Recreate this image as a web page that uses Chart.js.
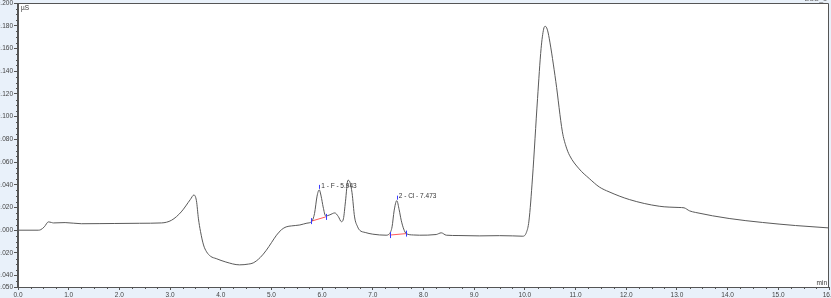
<!DOCTYPE html>
<html>
<head>
<meta charset="utf-8">
<script src="https://cdn.jsdelivr.net/npm/chart.js@4/dist/chart.umd.min.js"></script>
<style>
	html, body { margin: 0; padding: 0; width: 831px; height: 298px; overflow: hidden; background: #e9f1fa; }
	#wrap { position: absolute; left: -12px; top: -3px; width: 843px; height: 301px; }
</style>
</head>
<body>
<div id="wrap"><canvas id="ionChart" width="843" height="301"></canvas></div>
<script>
// retention time (min) and conductivity (µS)
const times = [
	0.0, 0.4, 0.45, 0.52, 0.6, 0.66, 0.7, 0.93, 1.25, 1.6, 1.91, 2.4, 2.83, 3.03, 3.22, 3.4, 3.47, 3.52,
	3.56, 3.6, 3.66, 3.72, 3.8, 3.91, 4.1, 4.37, 4.55, 4.64, 4.78, 4.9, 5.0, 5.1, 5.2, 5.29, 5.4, 5.56,
	5.7, 5.79, 5.85, 5.9, 5.943, 5.98, 6.02, 6.07, 6.15, 6.25, 6.32, 6.38, 6.42, 6.46, 6.51, 6.55, 6.59,
	6.64, 6.7, 6.74, 6.85, 7.0, 7.26, 7.33, 7.38, 7.42, 7.473, 7.52, 7.56, 7.61, 7.66, 7.8, 7.92, 8.25,
	8.35, 8.45, 8.7, 9.1, 9.5, 9.76, 9.96, 10.03, 10.08, 10.15, 10.25, 10.32, 10.37, 10.4, 10.44, 10.48,
	10.61, 10.74, 10.81, 10.88, 11.07, 11.27, 11.47, 11.66, 12.06, 12.65, 13.04, 13.14, 13.25, 13.37,
	14.03, 14.69, 15.34, 16.0
];
const signal = [
	0.0, 0.0, 0.0005, 0.003, 0.0073, 0.0068, 0.0064, 0.0067, 0.0057, 0.0058, 0.0059, 0.0061, 0.0064, 0.0088, 0.0161, 0.027, 0.031, 0.026,
	0.01, -0.001, -0.013, -0.019, -0.023, -0.025, -0.028, -0.0305, -0.0298, -0.0288, -0.024, -0.0176, -0.011, -0.0044, 0.0005, 0.0029, 0.0038, 0.0046,
	0.0062, 0.0075, 0.0147, 0.03, 0.0355, 0.03, 0.0205, 0.0125, 0.0135, 0.0152, 0.012, 0.0075, 0.01, 0.025, 0.044, 0.042, 0.033,
	0.0117, 0.003, 0.0, -0.002, -0.0035, -0.0044, -0.003, 0.003, 0.017, 0.026, 0.018, 0.0088, 0.001, -0.003, -0.0042, -0.0044, -0.0038,
	-0.0023, -0.0044, -0.0047, -0.005, -0.0048, -0.005, -0.0053, -0.002, 0.008, 0.046, 0.116, 0.16, 0.177, 0.1795, 0.177, 0.169,
	0.131, 0.0866, 0.074, 0.066, 0.054, 0.0455, 0.038, 0.0338, 0.027, 0.0211, 0.02, 0.0197, 0.017, 0.0156,
	0.0103, 0.0068, 0.0041, 0.002
];

// integrated peaks
const peakLabels = ["1 - F - 5.943", "2 - Cl - 7.473"];
const peakApexTime = [5.943, 7.473];
const peakApexValue = [0.0355, 0.026];
const baseStartTime = [5.79, 7.33];
const baseStartValue = [0.0080, -0.0043];
const baseEndTime = [6.07, 7.66];
const baseEndValue = [0.0117, -0.0030];

const xTickValues = [0, 1, 2, 3, 4, 5, 6, 7, 8, 9, 10, 11, 12, 13, 14, 15, 16];
const yTickValues = [0.2, 0.18, 0.16, 0.14, 0.12, 0.1, 0.08, 0.06, 0.04, 0.02, 0, -0.02, -0.04, -0.05];

const FONT = "'Liberation Sans', Arial, sans-serif";
const AXIS_COLOR = "#555";

const datasets = [
	{
		data: times.map((t, i) => ({ x: t, y: signal[i] })),
		borderColor: "#5a5a5a",
		borderWidth: 1,
		pointRadius: 0,
		cubicInterpolationMode: "monotone",
	},
];
// red baselines under the integrated peaks
for (let i = 0; i < peakLabels.length; i++) {
	datasets.push({
		data: [
			{ x: baseStartTime[i], y: baseStartValue[i] },
			{ x: baseEndTime[i], y: baseEndValue[i] },
		],
		borderColor: "#ff5a5a",
		borderWidth: 1,
		pointRadius: 0,
	});
}

const chromPlugin = {
	id: "chrom",
	beforeDraw(chart) {
		const { ctx, chartArea: { left, top, width, height } } = chart;
		ctx.save();
		ctx.fillStyle = "#e9f1fa";
		ctx.fillRect(0, 0, chart.width, chart.height);
		ctx.fillStyle = "#fff";
		ctx.fillRect(left, top, width, height);
		// header strip, mostly cut off
		ctx.fillStyle = "#666";
		ctx.font = "7px " + FONT;
		ctx.textAlign = "right";
		ctx.textBaseline = "middle";
		ctx.fillText("ECD_1", chart.width - 4, 2);
		ctx.restore();
	},
	afterDraw(chart) {
		const { ctx, chartArea: { left, top, right, bottom }, scales: { x, y } } = chart;
		ctx.save();
		ctx.strokeStyle = AXIS_COLOR;
		ctx.lineWidth = 1;
		ctx.beginPath();
		ctx.rect(left - 0.5, top + 0.5, right - left, bottom - top);
		ctx.stroke();

		// minor ticks
		ctx.beginPath();
		for (let v = 0.25; v < 16; v += 0.25) {
			if (Math.abs(v - Math.round(v)) < 1e-6) continue;
			const px = Math.round(x.getPixelForValue(v)) + 0.5;
			ctx.moveTo(px, bottom);
			ctx.lineTo(px, bottom + 2);
		}
		for (let k = -10; k <= 40; k++) {
			if (k % 4 === 0) continue;
			const py = Math.round(y.getPixelForValue(k * 0.005)) + 0.5;
			ctx.moveTo(left - 2, py);
			ctx.lineTo(left, py);
		}
		ctx.stroke();

		// peak markers
		ctx.strokeStyle = "#3a3aff";
		ctx.beginPath();
		for (let i = 0; i < peakLabels.length; i++) {
			const sx = Math.round(x.getPixelForValue(baseStartTime[i])) + 0.5;
			const sy = y.getPixelForValue(baseStartValue[i]);
			ctx.moveTo(sx, sy - 3);
			ctx.lineTo(sx, sy + 3);
			const ex = Math.round(x.getPixelForValue(baseEndTime[i])) + 0.5;
			const ey = y.getPixelForValue(baseEndValue[i]);
			ctx.moveTo(ex, ey - 3);
			ctx.lineTo(ex, ey + 3);
			const ax = Math.round(x.getPixelForValue(peakApexTime[i])) + 0.5;
			const ay = y.getPixelForValue(peakApexValue[i]);
			ctx.moveTo(ax, ay - 5);
			ctx.lineTo(ax, ay - 1);
		}
		ctx.stroke();

		ctx.fillStyle = "#333";
		ctx.font = "6.5px " + FONT;
		ctx.textBaseline = "middle";
		ctx.textAlign = "left";
		for (let i = 0; i < peakLabels.length; i++) {
			const ax = x.getPixelForValue(peakApexTime[i]);
			const ay = y.getPixelForValue(peakApexValue[i]);
			ctx.fillText(peakLabels[i], ax + 2, ay - 4);
		}
		ctx.fillText("µS", left + 3, top + 5);
		ctx.textAlign = "right";
		ctx.fillText("min", right - 2, bottom - 4);
		ctx.restore();
	},
};

new Chart(document.getElementById("ionChart"), {
	type: "line",
	data: { datasets: datasets },
	plugins: [chromPlugin],
	options: {
		responsive: false,
		animation: false,
		devicePixelRatio: 1,
		layout: { padding: { top: 6, right: 2, left: 0, bottom: 0 } },
		plugins: { legend: { display: false }, tooltip: { enabled: false } },
		scales: {
			x: {
				type: "linear",
				min: 0,
				max: 16,
				afterBuildTicks: (s) => { s.ticks = xTickValues.map((v) => ({ value: v })); },
				afterFit: (s) => { s.height = 11; s.paddingLeft = 0; s.paddingRight = 0; },
				ticks: {
					autoSkip: false,
					maxRotation: 0,
					padding: 1,
					color: "#444",
					font: { family: FONT, size: 6.5 },
					callback: (v) => Number(v).toFixed(1),
				},
				grid: { drawOnChartArea: false, tickLength: 3, color: AXIS_COLOR },
				border: { color: AXIS_COLOR },
			},
			y: {
				min: -0.05,
				max: 0.2,
				afterBuildTicks: (s) => { s.ticks = yTickValues.map((v) => ({ value: v })); },
				afterFit: (s) => { s.width = 30; s.paddingTop = 0; s.paddingBottom = 0; },
				ticks: {
					autoSkip: false,
					padding: 1,
					color: "#444",
					font: { family: FONT, size: 6.5 },
					callback: (v) => Number(v).toFixed(3),
				},
				grid: { drawOnChartArea: false, tickLength: 4, color: AXIS_COLOR },
				border: { color: AXIS_COLOR },
			},
		},
	},
});
</script>
</body>
</html>
